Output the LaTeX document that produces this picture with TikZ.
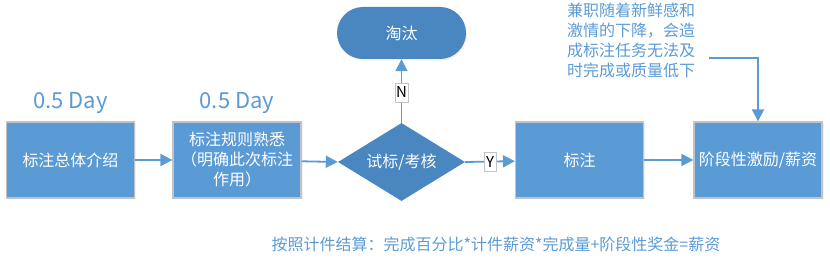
\documentclass[tikz,border=0pt]{standalone}
\usepackage{fontspec}
\setmainfont{Noto Sans CJK SC}
\usetikzlibrary{shapes.geometric,arrows.meta,shadows}
\definecolor{boxblue}{HTML}{5B9BD5}
\definecolor{darkblue}{HTML}{4A86BF}
\definecolor{boxedge}{HTML}{C0C4C8}
\definecolor{txtblue}{HTML}{5B9BD5}
\begin{document}
\begin{tikzpicture}[x=1pt,y=-1pt,
  stepbox/.style={rectangle,fill=boxblue,draw=boxedge,line width=1.2pt,minimum width=128pt,minimum height=76pt,text=white,font=\fontsize{16}{20}\selectfont,align=center,inner sep=2pt,
    drop shadow={opacity=0.12,shadow xshift=1.5pt,shadow yshift=-1.5pt}},
  decide/.style={diamond,fill=darkblue,aspect=1.63,minimum width=127pt,minimum height=78pt,inner sep=0pt,text=white,font=\fontsize{16}{18}\selectfont},
  term/.style={rectangle,rounded corners=26pt,fill=darkblue,minimum width=129pt,minimum height=52pt,text=white,font=\fontsize{16}{18}\selectfont,
    drop shadow={opacity=0.12,shadow xshift=1pt,shadow yshift=-1.5pt}},
  conn/.style={draw=boxblue,line width=1.8pt,-{Triangle[length=12pt,width=12pt]}},
  yn/.style={fill=white,draw=boxedge,line width=0.4pt,inner sep=1pt,minimum width=12pt,minimum height=19pt,font=\fontsize{15}{16}\selectfont,text=black},
  daylbl/.style={text=txtblue,font=\fontsize{22}{26}\selectfont},
  note/.style={text=txtblue,font=\fontsize{16}{20}\selectfont}
]
\useasboundingbox (0,0) rectangle (830,264);
\node[stepbox] (b1) at (70.5,160) {标注总体介绍};
\node[stepbox] (b2) at (237,160) {标注规则熟悉\\（明确此次标注\\作用）};
\node[decide] (d) at (401.5,162) {试标/考核};
\node[term] (t) at (401.5,33) {淘汰};
\node[stepbox] (b3) at (579.5,160) {标注};
\node[stepbox] (b4) at (758,160) {阶段性激励/薪资};
\node[daylbl] (l1) at (70.5,103) {0.5 Day};
\node[daylbl] (l2) at (237,103) {0.5 Day};
\node[note,align=left,anchor=north west,inner sep=0pt] (n) at (567,3) {兼职随着新鲜感和\\激情的下降，会造\\成标注任务无法及\\时完成或质量低下};
\node[note,inner sep=0pt] (f) at (496,244) {按照计件结算：完成百分比*计件薪资*完成量+阶段性奖金=薪资};
\coordinate (c0) at (709,58);
\draw[conn] (b1) -- (b2);
\draw[conn] (b2) -- (d.west);
\draw[conn] (d.east) -- node[yn,pos=0.5] (ylab) {Y} (b3);
\draw[conn] (d.north) -- node[yn,pos=0.48] (nlab) {N} (t.south);
\draw[conn] (b3) -- (b4);
\draw[conn] (c0) -| (b4.north);
\end{tikzpicture}
\end{document}
